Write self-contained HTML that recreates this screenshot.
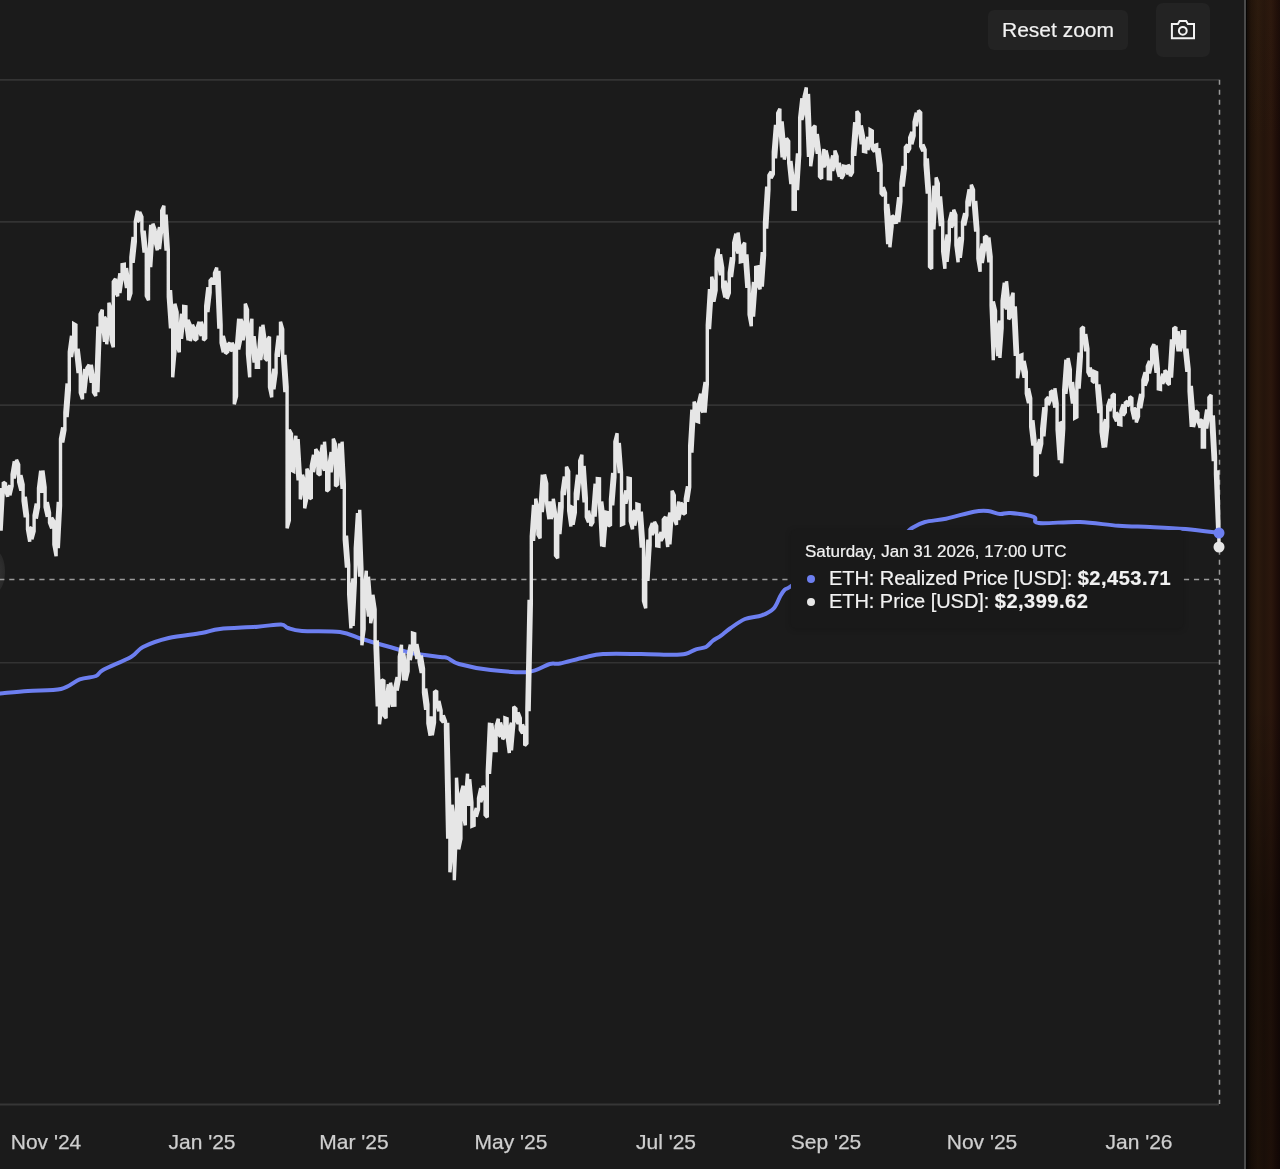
<!DOCTYPE html>
<html><head><meta charset="utf-8">
<style>
html,body{margin:0;padding:0;}
body{-webkit-font-smoothing:antialiased;width:1280px;height:1169px;overflow:hidden;background:#1b1b1b;position:relative;font-family:"Liberation Sans",sans-serif;}
#side{position:absolute;left:1244px;top:0;width:36px;height:1169px;background:linear-gradient(90deg,#4a4a4a 0,#4a4a4a 2px,#060504 2px,#060504 3px,transparent 3px),linear-gradient(180deg,rgba(60,40,20,.12) 0,rgba(0,0,0,0) 12%,rgba(0,0,0,0) 60%,rgba(0,0,0,.35) 78%,rgba(0,0,0,.3) 100%),linear-gradient(90deg,#0e0806 3px,#1f1209 7px,#2a190d 14px,#24140b 20px,#2b170d 27px,#1e0d08 33px,#180a07 36px);}
.btn{position:absolute;background:#232323;border-radius:6px;}
#reset{will-change:transform;-webkit-text-stroke:0.2px #f2f2f2;left:988px;top:10px;width:140px;height:40px;color:#f2f2f2;font-size:21px;line-height:40px;text-align:center;}
#cam{left:1156px;top:3px;width:54px;height:54px;border-radius:7px;}
svg{position:absolute;left:0;top:0;}
.xl{will-change:transform;-webkit-text-stroke:0.25px #cfcfcf;position:absolute;top:1130px;width:200px;text-align:center;color:#cfcfcf;font-size:21px;line-height:24px;white-space:nowrap;}
#tip{will-change:transform;position:absolute;left:791px;top:530px;width:392px;height:98px;background:#191919;box-shadow:0 1px 6px rgba(0,0,0,.2);border-radius:4px;}
#tip .h{-webkit-text-stroke:0.2px #f2f2f2;position:absolute;left:14px;top:12px;font-size:17px;color:#f2f2f2;white-space:nowrap;}
#tip .r{letter-spacing:-0.05px;-webkit-text-stroke:0.2px #f2f2f2;position:absolute;left:38px;font-size:20px;color:#f2f2f2;white-space:nowrap;}
#tip b{letter-spacing:0.5px;}
#tip .d{position:absolute;left:16px;width:8px;height:8px;border-radius:50%;}
</style></head><body>
<div id="side"></div>
<div style="position:absolute;left:-14px;top:551px;width:19px;height:41px;border-radius:50%;background:radial-gradient(ellipse at 30% 50%,#3a3a3a 0,#2c2c2c 60%,#222 100%);"></div>
<div class="btn" id="reset">Reset zoom</div>
<div class="btn" id="cam"></div>
<svg width="1280" height="1169" viewBox="0 0 1280 1169">
  <line x1="0" y1="79.9" x2="1219" y2="79.9" stroke="#343434" stroke-width="1.6"/>
  <line x1="0" y1="221.9" x2="1219" y2="221.9" stroke="#333" stroke-width="1.6"/>
  <line x1="0" y1="405.1" x2="1219" y2="405.1" stroke="#333" stroke-width="1.6"/>
  <line x1="0" y1="662.8" x2="1219" y2="662.8" stroke="#333" stroke-width="1.6"/>
  <line x1="0" y1="1104.4" x2="1219" y2="1104.4" stroke="#363636" stroke-width="2"/>
  <line x1="0" y1="579.5" x2="1219" y2="579.5" stroke="#9a9a9a" stroke-width="1.5" stroke-dasharray="5.2 4.84" stroke-dashoffset="0.8"/>
  <line x1="1219.5" y1="79.8" x2="1219.5" y2="1104" stroke="#9a9a9a" stroke-width="1.5" stroke-dasharray="5 5"/>
  <path d="M0,693.5 C4.7,693.1 17.8,691.8 28,691 C38.2,690.2 52.4,690.9 61,689 C69.6,687.1 73.9,681.6 79.7,679.4 C85.5,677.2 92.1,677.6 96,676 C99.9,674.4 97.2,673.2 103,670 C108.8,666.8 124.3,660.8 131,657 C137.7,653.2 136.7,650.2 143,647 C149.3,643.8 158.9,640.3 168.7,638 C178.4,635.7 192.9,634.5 201.5,633 C210.1,631.5 210.6,630.0 220,629 C229.4,628.0 247.6,627.5 257.8,626.7 C268.0,625.9 276.0,624.2 281,624.4 C286.0,624.6 284.5,626.9 288,628 C291.5,629.1 293.3,630.3 302,631 C310.7,631.7 330.0,630.7 340,632 C350.0,633.3 353.7,636.5 362,639 C370.3,641.5 381.8,644.7 390,647 C398.2,649.3 403.2,651.3 411.5,653 C419.8,654.7 434.0,656.2 440,657 C446.0,657.8 444.3,656.8 447.5,658 C450.7,659.2 451.8,662.0 459,664 C466.2,666.0 479.2,668.7 490.7,670 C502.2,671.3 518.2,673.0 528,672 C537.8,671.0 544.4,665.4 549.7,664 C555.0,662.6 554.3,664.6 560,663.5 C565.7,662.4 576.8,659.1 584,657.5 C591.2,655.9 593.5,654.6 603,654 C612.5,653.4 629.3,653.9 641,654 C652.7,654.1 665.5,654.8 673,654.8 C680.5,654.8 682.2,654.6 686,653.7 C689.8,652.8 692.7,650.4 696,649.3 C699.3,648.2 703.2,648.4 706,647 C708.8,645.6 710.0,642.9 712.5,641 C715.0,639.1 718.1,637.7 721,635.6 C723.9,633.5 726.0,631.3 730,628.5 C734.0,625.7 739.7,621.2 745,619 C750.3,616.8 756.9,617.2 761.7,615.4 C766.5,613.6 770.7,611.5 773.8,608.3 C776.9,605.1 778.5,599.1 780.3,596 C782.1,592.9 783.0,591.3 784.7,589.7 C786.4,588.1 784.8,590.4 790.7,586.4 C796.6,582.4 810.1,571.7 820,566 C829.9,560.3 840.0,555.3 850,552 C860.0,548.7 871.3,548.7 880,546 C888.7,543.3 896.7,539.0 902,536 C907.3,533.0 908.2,530.3 912,528 C915.8,525.7 919.3,523.5 925,522 C930.7,520.5 937.8,520.4 946,518.7 C954.2,517.0 967.0,513.0 974,511.7 C981.0,510.4 983.7,510.6 988,511 C992.3,511.4 996.2,513.7 1000,514 C1003.8,514.3 1004.9,512.5 1010.5,513 C1016.1,513.5 1029.0,515.1 1033.7,516.8 C1038.4,518.5 1031.1,522.1 1038.8,523 C1046.5,523.9 1066.7,521.5 1080,522 C1093.3,522.5 1106.7,525.0 1118.4,525.8 C1130.1,526.6 1138.8,526.5 1150,527 C1161.2,527.5 1174.1,528.0 1185.6,529 C1197.1,530.0 1213.4,532.3 1219,533" fill="none" stroke="#6d7ff0" stroke-width="4" stroke-linejoin="round" stroke-linecap="round"/>
  <path d="M1.1,488.1 L1.1,530.7 L3.3,489.9 L3.3,482.3 L5.5,483.7 L5.5,490 L7.7,496.7 L7.7,488.1 L9.9,485.5 L9.9,495.3 L12.1,486.1 L12.1,474.4 L14.3,461.2 L14.3,478.4 L16.5,468.5 L16.5,459.7 L18.7,464.6 L18.7,482 L20.9,490.7 L20.9,475.1 L23.1,484.5 L23.1,500.8 L25.3,517.3 L25.3,496.7 L27.5,515.4 L27.5,529.3 L29.7,541.8 L29.7,527.4 L31.9,528.9 L31.9,539.3 L34.1,531.3 L34.1,515.5 L36.3,503.6 L36.3,518.6 L38.5,507 L38.5,488.1 L40.7,470.7 L40.7,490.3 L42.9,491.8 L42.9,470.4 L45.1,487.1 L45.1,507.1 L47.3,516.8 L47.3,502.1 L49.5,512.6 L49.5,522.6 L51.7,528.5 L51.7,517.7 L53.9,521.3 L53.9,544.5 L56.1,556.3 L56.1,538.8 L58.3,501.9 L58.3,548.1 L60.5,506 L60.5,438.8 L62.7,427.4 L62.7,442.5 L64.9,430.2 L64.9,412.3 L67.1,383.5 L67.1,417.2 L69.3,390.1 L69.3,351.8 L71.5,335.7 L71.5,357 L73.7,342.6 L73.7,323.7 L75.9,324.9 L75.9,352 L78.1,373.1 L78.1,348.7 L80.3,367.1 L80.3,392.7 L82.5,399.3 L82.5,384.5 L84.7,368.9 L84.7,393 L86.9,372.7 L86.9,368 L89.1,364.7 L89.1,368.6 L91.3,382.8 L91.3,364.7 L93.5,378.7 L93.5,392.3 L95.7,395.9 L95.7,390.2 L97.9,326.6 L97.9,392.3 L100.1,331 L100.1,314.1 L102.3,309.7 L102.3,321.9 L104.5,341.9 L104.5,316.7 L106.7,320.7 L106.7,344.3 L108.9,323 L108.9,302.7 L111.1,310 L111.1,340.3 L113.3,347.3 L113.3,281.9 L115.5,278.7 L115.5,290.4 L117.7,296.3 L117.7,289.2 L119.9,273.2 L119.9,292.9 L122.1,278 L122.1,264.7 L124.3,264.3 L124.3,274 L126.5,288 L126.5,268.1 L128.7,283.7 L128.7,300.3 L130.9,293.2 L130.9,257.1 L133.1,237 L133.1,262.8 L135.3,241.6 L135.3,221.3 L137.5,210.7 L137.5,222.1 L139.7,219 L139.7,212 L141.9,216.8 L141.9,230.8 L144.1,252.5 L144.1,230.6 L146.3,251.4 L146.3,295.9 L148.5,300.3 L148.5,266.3 L150.7,224.8 L150.7,267.1 L152.9,232.9 L152.9,223.7 L155.1,229.7 L155.1,241.6 L157.3,250.3 L157.3,237.2 L159.5,227.1 L159.5,249 L161.7,229.7 L161.7,210.6 L163.9,205.7 L163.9,219.5 L166.1,250.7 L166.1,214.6 L168.3,249.9 L168.3,296.7 L170.5,328.3 L170.5,290 L172.7,325.2 L172.7,377.3 L174.9,352.2 L174.9,303.7 L177.1,312.1 L177.1,345.5 L179.3,352.3 L179.3,334 L181.5,313.7 L181.5,338.7 L183.7,318 L183.7,306.4 L185.9,306.7 L185.9,324.5 L188.1,340.3 L188.1,319.8 L190.3,325 L190.3,340.9 L192.5,334.3 L192.5,324.7 L194.7,330 L194.7,340.3 L196.9,338.6 L196.9,328.2 L199.1,321.7 L199.1,331.1 L201.3,335.9 L201.3,321.7 L203.5,328.5 L203.5,340.3 L205.7,338 L205.7,306.2 L207.9,287.3 L207.9,312.1 L210.1,292.6 L210.1,280.6 L212.3,278 L212.3,282.5 L214.5,283 L214.5,273 L216.7,267.6 L216.7,278 L218.9,328.6 L218.9,270.7 L221.1,324.6 L221.1,342.8 L223.3,352.3 L223.3,335.8 L225.5,344.7 L225.5,353.6 L227.7,351.7 L227.7,344.7 L229.9,342.7 L229.9,349.1 L232.1,350.9 L232.1,342.7 L234.3,347.3 L234.3,404.3 L236.5,396.3 L236.5,345.5 L238.7,318.7 L238.7,349.4 L240.9,338.4 L240.9,319.1 L243.1,324.9 L243.1,340.3 L245.3,328.6 L245.3,303.7 L247.5,309.7 L247.5,353.9 L249.7,377.3 L249.7,330 L251.9,318.7 L251.9,341.4 L254.1,362.7 L254.1,336.1 L256.3,356.5 L256.3,367.3 L258.5,367.3 L258.5,354.9 L260.7,326.7 L260.7,359.9 L262.9,344.1 L262.9,324.7 L265.1,340.3 L265.1,358.3 L267.3,360.7 L267.3,340.6 L269.5,336.7 L269.5,387.1 L271.7,397.3 L271.7,382.4 L273.9,368.7 L273.9,389.2 L276.1,373 L276.1,354.5 L278.3,335.6 L278.3,356.9 L280.5,338.8 L280.5,321.7 L282.7,329.2 L282.7,359.2 L284.9,392.1 L284.9,354.8 L287.1,386.7 L287.1,528.3 L289.3,520.5 L289.3,429.7 L291.5,433.9 L291.5,470.3 L293.7,471.5 L293.7,447.2 L295.9,435.7 L295.9,448.9 L298.1,480.4 L298.1,439.1 L300.3,475.6 L300.3,499.3 L302.5,488.6 L302.5,474.7 L304.7,482.1 L304.7,508.3 L306.9,498.1 L306.9,468.7 L309.1,473.4 L309.1,497.3 L311.3,498.8 L311.3,466 L313.5,454.7 L313.5,472.1 L315.7,459 L315.7,449.2 L317.9,452.7 L317.9,473.5 L320.1,475.3 L320.1,459.1 L322.3,444.7 L322.3,464.9 L324.5,470.6 L324.5,441.7 L326.7,469.2 L326.7,491.3 L328.9,489.2 L328.9,465.6 L331.1,451.9 L331.1,472.3 L333.3,453.3 L333.3,438.7 L335.5,444.4 L335.5,486.3 L337.7,484.3 L337.7,457 L339.9,443.4 L339.9,460.2 L342.1,488.9 L342.1,441.7 L344.3,484.4 L344.3,539.8 L346.5,567.5 L346.5,535.6 L348.7,565.1 L348.7,594.4 L350.9,628.3 L350.9,589.8 L353.1,578.5 L353.1,626 L355.3,582.5 L355.3,548.4 L357.5,513.1 L357.5,550.8 L359.7,576.5 L359.7,509.7 L361.9,568.6 L361.9,645.3 L364.1,629.5 L364.1,592.1 L366.3,570.7 L366.3,596.1 L368.5,616.6 L368.5,576.7 L370.7,604.3 L370.7,623.3 L372.9,611.2 L372.9,594.7 L375.1,609.3 L375.1,647.1 L377.3,706.5 L377.3,640.4 L379.5,702.9 L379.5,724.3 L381.7,706.9 L381.7,679.7 L383.9,681 L383.9,715.4 L386.1,718.3 L386.1,700.6 L388.3,684.3 L388.3,707.3 L390.5,699.8 L390.5,682.7 L392.7,693.9 L392.7,705.3 L394.9,705.2 L394.9,687.5 L397.1,677 L397.1,690.6 L399.3,679.3 L399.3,656.6 L401.5,644.7 L401.5,659.7 L403.7,680.3 L403.7,652.9 L405.9,668.7 L405.9,680.5 L408.1,671.4 L408.1,655.8 L410.3,644.7 L410.3,660.1 L412.5,647 L412.5,633 L414.7,633.7 L414.7,647.4 L416.9,659 L416.9,644.1 L419.1,655.6 L419.1,661.9 L421.3,673 L421.3,655.6 L423.5,668.9 L423.5,692.6 L425.7,709.9 L425.7,688.5 L427.9,704.4 L427.9,723.3 L430.1,735.7 L430.1,717.9 L432.3,718.1 L432.3,735.3 L434.5,722.5 L434.5,692.2 L436.7,690.7 L436.7,702.8 L438.9,711.3 L438.9,701 L441.1,710.4 L441.1,719.7 L443.3,722.3 L443.3,715.3 L445.5,721.2 L445.5,730.6 L447.7,838.8 L447.7,722.8 L449.9,817.8 L449.9,872.3 L452.1,849.3 L452.1,804.7 L454.3,821 L454.3,880.3 L456.5,826 L456.5,777.7 L458.7,811.5 L458.7,849.3 L460.9,838.9 L460.9,793.9 L463.1,785.7 L463.1,814.1 L465.3,825.3 L465.3,801.2 L467.5,773.7 L467.5,803.5 L469.7,804.8 L469.7,779.2 L471.9,802.5 L471.9,826.2 L474.1,825.3 L474.1,816.2 L476.3,807.9 L476.3,816.7 L478.5,809.2 L478.5,798.2 L480.7,788.2 L480.7,802 L482.9,796.7 L482.9,785.7 L485.1,790.5 L485.1,814.8 L487.3,817.3 L487.3,771.4 L489.5,722.7 L489.5,773.8 L491.7,742 L491.7,723.2 L493.9,738.9 L493.9,750.3 L496.1,750.4 L496.1,726.1 L498.3,718.7 L498.3,733.8 L500.5,736.7 L500.5,722.5 L502.7,730.2 L502.7,739.3 L504.9,736.2 L504.9,717.9 L507.1,718.7 L507.1,736.5 L509.3,753.1 L509.3,729.4 L511.5,722.7 L511.5,750.3 L513.7,725.3 L513.7,706.7 L515.9,708.7 L515.9,718.8 L518.1,723.7 L518.1,712.5 L520.3,718 L520.3,729.8 L522.5,733.4 L522.5,724.5 L524.7,729.8 L524.7,745.6 L526.9,743.3 L526.9,708.7 L529.1,599.7 L529.1,711.3 L531.3,603.8 L531.3,536.4 L533.5,504.9 L533.5,540.9 L535.7,514 L535.7,498.7 L537.9,509.7 L537.9,534.6 L540.1,538.3 L540.1,506.7 L542.3,474.7 L542.3,512 L544.5,489 L544.5,474.5 L546.7,483.4 L546.7,503.8 L548.9,519.3 L548.9,502.7 L551.1,502.8 L551.1,518.8 L553.3,513.8 L553.3,498.7 L555.5,513.5 L555.5,555.5 L557.7,558.3 L557.7,529.9 L559.9,502.2 L559.9,534.2 L562.1,507.4 L562.1,492.2 L564.3,476.5 L564.3,495.1 L566.5,479.5 L566.5,466.7 L568.7,471.4 L568.7,510.8 L570.9,526.6 L570.9,506.5 L573.1,507.7 L573.1,524.8 L575.3,512.6 L575.3,493.7 L577.5,474.7 L577.5,500 L579.7,478.3 L579.7,460.9 L581.9,454.7 L581.9,472.6 L584.1,502.4 L584.1,465.9 L586.3,498.1 L586.3,516.8 L588.5,522.3 L588.5,510.5 L590.7,521 L590.7,526 L592.9,522.3 L592.9,512.2 L595.1,483.7 L595.1,516.6 L597.3,485.1 L597.3,478.5 L599.5,478.7 L599.5,504.3 L601.7,546.3 L601.7,501.4 L603.9,518.4 L603.9,547.1 L606.1,518.9 L606.1,512.3 L608.3,512.9 L608.3,526.1 L610.5,524.8 L610.5,499.4 L612.7,473 L612.7,505.3 L614.9,477.3 L614.9,441.8 L617.1,433.2 L617.1,448.3 L619.3,473.1 L619.3,442.9 L621.5,472.4 L621.5,524.8 L623.7,523.9 L623.7,501.2 L625.9,490.4 L625.9,503.7 L628.1,492.4 L628.1,478.2 L630.3,478.7 L630.3,521.3 L632.5,529.3 L632.5,513 L634.7,510.4 L634.7,525.6 L636.9,515.7 L636.9,504.1 L639.1,504.7 L639.1,515 L641.3,547.7 L641.3,511.5 L643.5,542.3 L643.5,601 L645.7,608.3 L645.7,579 L647.9,539.5 L647.9,580.9 L650.1,545.2 L650.1,529.3 L652.3,523 L652.3,534.8 L654.5,530.2 L654.5,521.7 L656.7,526.1 L656.7,545.9 L658.9,546.3 L658.9,537.5 L661.1,532.1 L661.1,540.7 L663.3,536.9 L663.3,519.5 L665.5,516.7 L665.5,528.8 L667.7,547.1 L667.7,523.7 L669.9,512.5 L669.9,544.3 L672.1,515 L672.1,490.7 L674.3,495.4 L674.3,519 L676.5,524.8 L676.5,514.8 L678.7,501.5 L678.7,519.9 L680.9,509.1 L680.9,502.7 L683.1,505.4 L683.1,514.3 L685.3,512.9 L685.3,498.8 L687.5,486.3 L687.5,501.8 L689.7,487.1 L689.7,445.5 L691.9,409.7 L691.9,452.7 L694.1,413 L694.1,401.7 L696.3,407.1 L696.3,421.1 L698.5,421.9 L698.5,402.9 L700.7,393.7 L700.7,408.5 L702.9,412.3 L702.9,396.1 L705.1,381.9 L705.1,412.7 L707.3,384.1 L707.3,325 L709.5,289.1 L709.5,329.1 L711.7,295.9 L711.7,276.7 L713.9,285.6 L713.9,301.8 L716.1,290.4 L716.1,258.1 L718.3,248.7 L718.3,263.1 L720.5,275.2 L720.5,254.3 L722.7,267.9 L722.7,287.1 L724.9,297.4 L724.9,280.9 L727.1,287.4 L727.1,298.8 L729.3,293 L729.3,272.7 L731.5,257.2 L731.5,277 L733.7,259.6 L733.7,242.6 L735.9,233.7 L735.9,246.7 L738.1,253.6 L738.1,232.5 L740.3,250 L740.3,261.8 L742.5,261.3 L742.5,246.2 L744.7,242.7 L744.7,258.1 L746.9,288 L746.9,254.3 L749.1,286.6 L749.1,314.6 L751.3,326.3 L751.3,308.3 L753.5,281.9 L753.5,316.5 L755.7,286.9 L755.7,267.4 L757.9,266.9 L757.9,284.2 L760.1,289.3 L760.1,279.6 L762.3,252.1 L762.3,286.7 L764.5,255.5 L764.5,222.6 L766.7,186.6 L766.7,228.7 L768.9,189.8 L768.9,175.3 L771.1,171.6 L771.1,178.2 L773.3,174 L773.3,152 L775.5,124.8 L775.5,158.4 L777.7,129.3 L777.7,113.1 L779.9,108.7 L779.9,126.4 L782.1,157.3 L782.1,121.3 L784.3,144.9 L784.3,159.5 L786.5,150.2 L786.5,138.2 L788.7,141.3 L788.7,162.8 L790.9,184.2 L790.9,160.9 L793.1,179.3 L793.1,209.2 L795.3,209.3 L795.3,185.1 L797.5,153.3 L797.5,190.2 L799.7,154.5 L799.7,117.5 L801.9,98.2 L801.9,119.9 L804.1,111.1 L804.1,96.7 L806.3,87.4 L806.3,105.2 L808.5,157 L808.5,93.9 L810.7,149.5 L810.7,166.3 L812.9,150.5 L812.9,127.9 L815.1,125.7 L815.1,137.3 L817.3,153.7 L817.3,133.9 L819.5,151.5 L819.5,176.3 L821.7,178.8 L821.7,165.2 L823.9,148.9 L823.9,167 L826.1,162.6 L826.1,150.5 L828.3,160 L828.3,178.6 L830.5,178.8 L830.5,165.2 L832.7,155.4 L832.7,171 L834.9,161.2 L834.9,150.5 L837.1,156.2 L837.1,168.5 L839.3,176.8 L839.3,162.8 L841.5,172.7 L841.5,178.8 L843.7,174.7 L843.7,166.2 L845.9,166.7 L845.9,169.9 L848.1,174.2 L848.1,164.7 L850.3,167.7 L850.3,176.3 L852.5,172.3 L852.5,151.6 L854.7,122.2 L854.7,155.9 L856.9,129.7 L856.9,111.2 L859.1,114.2 L859.1,126.6 L861.3,144.2 L861.3,125.4 L863.5,136.7 L863.5,151.3 L865.7,151.8 L865.7,143.7 L867.9,137 L867.9,150.1 L870.1,142.4 L870.1,129.7 L872.3,130.9 L872.3,148.6 L874.5,151.8 L874.5,145.5 L876.7,144.8 L876.7,151.3 L878.9,171.8 L878.9,148.2 L881.1,164.8 L881.1,193.4 L883.3,195.9 L883.3,187.2 L885.5,193 L885.5,209.2 L887.7,244.1 L887.7,204 L889.9,225.4 L889.9,247.3 L892.1,226.6 L892.1,215.7 L894.3,217.3 L894.3,222.6 L896.5,222.3 L896.5,216.1 L898.7,197.2 L898.7,222 L900.9,201.5 L900.9,183.2 L903.1,165.9 L903.1,186.6 L905.3,168.3 L905.3,147.4 L907.5,144.4 L907.5,152.5 L909.7,148.5 L909.7,137.6 L911.9,131.9 L911.9,144.2 L914.1,135.9 L914.1,122 L916.3,112.7 L916.3,126.3 L918.5,114.7 L918.5,110.4 L920.7,112.7 L920.7,146.5 L922.9,151.3 L922.9,144.5 L925.1,149.6 L925.1,165 L927.3,193.7 L927.3,158.4 L929.5,190.5 L929.5,266.6 L931.7,268.8 L931.7,224 L933.9,185.7 L933.9,229.3 L936.1,189.8 L936.1,177.4 L938.3,183.5 L938.3,203.7 L940.5,226.1 L940.5,196.3 L942.7,221.8 L942.7,251.3 L944.9,268.8 L944.9,249.5 L947.1,234.5 L947.1,261.9 L949.3,240.6 L949.3,221.3 L951.5,212.1 L951.5,227.5 L953.7,222.7 L953.7,209.7 L955.9,215 L955.9,245.1 L958.1,262.3 L958.1,242 L960.3,237.2 L960.3,257.9 L962.5,239.1 L962.5,222.1 L964.7,213.1 L964.7,225.4 L966.9,215.2 L966.9,201.9 L969.1,189.2 L969.1,206.3 L971.3,192.2 L971.3,184.7 L973.5,189.9 L973.5,205.4 L975.7,231.7 L975.7,200.9 L977.9,229 L977.9,258.6 L980.1,271.8 L980.1,256.4 L982.3,243.6 L982.3,263.1 L984.5,249.6 L984.5,237.4 L986.7,235.9 L986.7,239 L988.9,262.4 L988.9,237.4 L991.1,256.7 L991.1,305.5 L993.3,360.3 L993.3,301.4 L995.5,310.7 L995.5,334.1 L997.7,356.2 L997.7,328 L999.9,320.8 L999.9,357.9 L1002.1,328.1 L1002.1,300.9 L1004.3,282.7 L1004.3,304.6 L1006.5,309 L1006.5,281.2 L1008.7,302.9 L1008.7,319.3 L1010.9,316.3 L1010.9,299.4 L1013.1,292.7 L1013.1,310.9 L1015.3,355.9 L1015.3,306.4 L1017.5,351.4 L1017.5,378.3 L1019.7,366.2 L1019.7,355.6 L1021.9,354.7 L1021.9,365.6 L1024.1,377.8 L1024.1,360.9 L1026.3,371.9 L1026.3,393.6 L1028.5,403.2 L1028.5,388.3 L1030.7,398.3 L1030.7,426.8 L1032.9,445.6 L1032.9,420.2 L1035.1,441.2 L1035.1,476 L1037.3,474.3 L1037.3,449.2 L1039.5,439 L1039.5,454 L1041.7,443.7 L1041.7,428.9 L1043.9,407.2 L1043.9,436.3 L1046.1,409.8 L1046.1,399.6 L1048.3,397.1 L1048.3,405.1 L1050.5,399.8 L1050.5,392.1 L1052.7,390.7 L1052.7,395.6 L1054.9,407.6 L1054.9,388.3 L1057.1,403.4 L1057.1,429.5 L1059.3,460.2 L1059.3,423.6 L1061.5,422.6 L1061.5,463.3 L1063.7,428.8 L1063.7,389.8 L1065.9,359.7 L1065.9,393.8 L1068.1,374 L1068.1,358.1 L1070.3,369.5 L1070.3,386.9 L1072.5,403.6 L1072.5,381.9 L1074.7,401.5 L1074.7,418.1 L1076.9,416.9 L1076.9,382.9 L1079.1,352.5 L1079.1,388.6 L1081.3,356.8 L1081.3,328.7 L1083.5,326.9 L1083.5,335.2 L1085.7,351.2 L1085.7,334.1 L1087.9,348.8 L1087.9,372 L1090.1,376.5 L1090.1,367.7 L1092.3,373.5 L1092.3,381 L1094.5,382.8 L1094.5,371.7 L1096.7,372.7 L1096.7,386.8 L1098.9,413.2 L1098.9,384.3 L1101.1,407.2 L1101.1,431.9 L1103.3,447.8 L1103.3,427.4 L1105.5,419.2 L1105.5,447.3 L1107.7,426.9 L1107.7,406 L1109.9,399 L1109.9,411.2 L1112.1,401.9 L1112.1,395.7 L1114.3,393.8 L1114.3,416.7 L1116.5,421.4 L1116.5,412.2 L1118.7,416.4 L1118.7,424.3 L1120.9,424.8 L1120.9,410.9 L1123.1,404.4 L1123.1,415.6 L1125.3,412.2 L1125.3,402.8 L1127.5,401.1 L1127.5,406.2 L1129.7,403.4 L1129.7,396.7 L1131.9,398.4 L1131.9,409.7 L1134.1,419.3 L1134.1,408.1 L1136.3,409.9 L1136.3,422.5 L1138.5,416.5 L1138.5,405.1 L1140.7,393.9 L1140.7,408.3 L1142.9,396.1 L1142.9,380.1 L1145.1,372.1 L1145.1,385.5 L1147.3,380 L1147.3,366.3 L1149.5,360.9 L1149.5,373.4 L1151.7,363.1 L1151.7,348.9 L1153.9,344.1 L1153.9,352.9 L1156.1,372.7 L1156.1,345.4 L1158.3,368.5 L1158.3,388.8 L1160.5,389.3 L1160.5,381.6 L1162.7,373.7 L1162.7,383.8 L1164.9,378.2 L1164.9,370.3 L1167.1,372.7 L1167.1,382.6 L1169.3,384.7 L1169.3,375 L1171.5,339.3 L1171.5,377.7 L1173.7,341.4 L1173.7,328.7 L1175.9,327.1 L1175.9,335.6 L1178.1,351.3 L1178.1,331.3 L1180.3,341.6 L1180.3,351.3 L1182.5,342.3 L1182.5,331.7 L1184.7,331.7 L1184.7,350.6 L1186.9,371.7 L1186.9,348.6 L1189.1,369.1 L1189.1,391.1 L1191.3,427 L1191.3,385.8 L1193.5,412.2 L1193.5,427 L1195.7,419.3 L1195.7,410.7 L1197.9,413.2 L1197.9,420.7 L1200.1,427.8 L1200.1,419.6 L1202.3,421 L1202.3,447 L1204.5,447 L1204.5,423.9 L1206.7,409.6 L1206.7,428.6 L1208.9,411.2 L1208.9,397.5 L1211.1,394.9 L1211.1,421.6 L1213.3,461.2 L1213.3,415.4 L1215.5,456.8 L1215.5,474.5 L1217.7,530.1 L1217.7,470.2 L1218.9,525.8 L1218.9,548.1 L1219,547" fill="none" stroke="#e6e6e6" stroke-width="3.4" stroke-linejoin="miter" stroke-miterlimit="2" stroke-linecap="butt"/>
  <circle cx="1219" cy="533" r="5.5" fill="#6d7ff0"/>
  <circle cx="1219" cy="547" r="5.5" fill="#e6e6e6"/>
  <g fill="none" stroke="#f2f2f2" stroke-width="2">
    <path d="M1171.9,23.9 H1177.9 L1179.6,21.1 H1186.2 L1187.9,23.9 H1194 V38.2 H1171.9 Z"/>
    <circle cx="1182.8" cy="30.8" r="3.9"/>
  </g>
</svg>
<div id="tip">
  <div class="h">Saturday, Jan 31 2026, 17:00 UTC</div>
  <div class="d" style="top:45px;background:#6d7ff0"></div>
  <div class="r" style="top:37px">ETH: Realized Price [USD]: <b>$2,453.71</b></div>
  <div class="d" style="top:68px;background:#e6e6e6"></div>
  <div class="r" style="top:60px">ETH: Price [USD]: <b>$2,399.62</b></div>
</div>
<div class="xl" style="left:-54.2px">Nov '24</div>
<div class="xl" style="left:102px">Jan '25</div>
<div class="xl" style="left:253.75px">Mar '25</div>
<div class="xl" style="left:410.5px">May '25</div>
<div class="xl" style="left:566.25px">Jul '25</div>
<div class="xl" style="left:725.5px">Sep '25</div>
<div class="xl" style="left:882.35px">Nov '25</div>
<div class="xl" style="left:1038.85px">Jan '26</div>
</body></html>
